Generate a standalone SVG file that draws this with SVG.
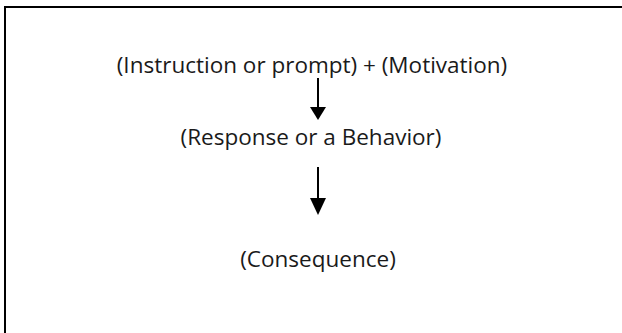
<svg xmlns="http://www.w3.org/2000/svg" width="622" height="333" viewBox="0 0 622 333">
  <defs>
    <style>
      .lbl { font-family: "Open Sans", "Liberation Sans", sans-serif; font-size: 22.5px; fill: #1a1a1a; text-anchor: middle; }
      .shaft { stroke: #000; stroke-width: 2; fill: none; }
      .head { fill: #000; }
    </style>
  </defs>
  <rect x="5" y="7" width="700" height="400" fill="#fff" stroke="#000" stroke-width="2"/>
  <g id="connectors">
    <line class="shaft" x1="318" y1="78" x2="318" y2="108"/>
    <polygon class="head" points="310,107 326,107 318,120"/>
    <line class="shaft" x1="318" y1="167" x2="318" y2="199"/>
    <polygon class="head" points="310,198 326,198 318,215"/>
  </g>
  <g id="node-instruction">
    <text class="lbl" x="312" y="73">(Instruction or prompt) + (Motivation)</text>
  </g>
  <g id="node-response">
    <text class="lbl" x="311" y="145">(Response or a Behavior)</text>
  </g>
  <g id="node-consequence">
    <text class="lbl" x="318" y="267">(Consequence)</text>
  </g>
</svg>
